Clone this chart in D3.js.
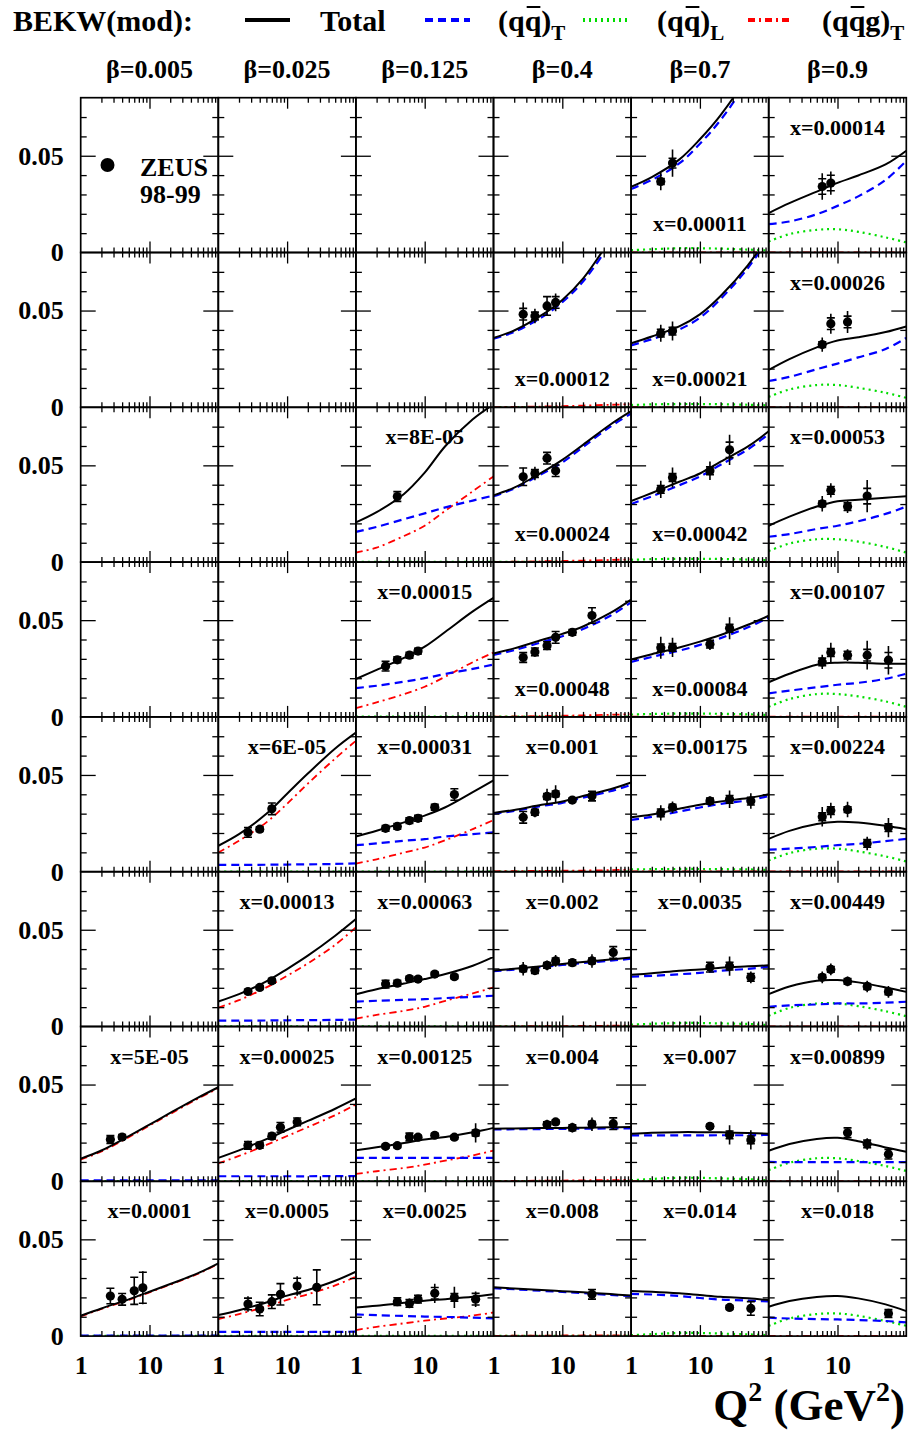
<!DOCTYPE html>
<html>
<head>
<meta charset="utf-8">
<script src="https://cdn.jsdelivr.net/npm/d3@7"></script>
<style>
  html, body { margin: 0; padding: 0; background: #fff; }
  svg { display: block; font-family: "Liberation Serif", "Times New Roman", serif; font-weight: bold; }
</style>
</head>
<body>
<svg id="chart" width="910" height="1432"></svg>
<script>
// ---------- data ----------
// Q^2 grid (GeV^2) on which the BEKW(mod) curves are tabulated
const q2Grid = [1, 2, 5, 10, 20, 50, 100];

const betaLabels = ["β=0.005", "β=0.025", "β=0.125", "β=0.4", "β=0.7", "β=0.9"];

// [row, column, x label] of each filled panel
const panels = [
  [0,4,"x=0.00011"],[0,5,"x=0.00014"],
  [1,3,"x=0.00012"],[1,4,"x=0.00021"],[1,5,"x=0.00026"],
  [2,2,"x=8E-05"],[2,3,"x=0.00024"],[2,4,"x=0.00042"],[2,5,"x=0.00053"],
  [3,2,"x=0.00015"],[3,3,"x=0.00048"],[3,4,"x=0.00084"],[3,5,"x=0.00107"],
  [4,1,"x=6E-05"],[4,2,"x=0.00031"],[4,3,"x=0.001"],[4,4,"x=0.00175"],[4,5,"x=0.00224"],
  [5,1,"x=0.00013"],[5,2,"x=0.00063"],[5,3,"x=0.002"],[5,4,"x=0.0035"],[5,5,"x=0.00449"],
  [6,0,"x=5E-05"],[6,1,"x=0.00025"],[6,2,"x=0.00125"],[6,3,"x=0.004"],[6,4,"x=0.007"],[6,5,"x=0.00899"],
  [7,0,"x=0.0001"],[7,1,"x=0.0005"],[7,2,"x=0.0025"],[7,3,"x=0.008"],[7,4,"x=0.014"],[7,5,"x=0.018"]
];

// negligible component
const tiny = [0.0001,0.0001,0.0001,0.0001,0.0001,0.0001,0.0001];

// Total
const totalCurves = [
  [0.034,0.039,0.048,0.0585,0.071,0.092,0.115],
  [0.0204,0.0255,0.0315,0.036,0.0398,0.0455,0.0526],
  [0.0359,0.0397,0.0476,0.0555,0.0665,0.087,0.105],
  [0.0331,0.0366,0.0418,0.048,0.0575,0.0735,0.089],
  [0.0193,0.0249,0.031,0.0345,0.0362,0.0389,0.0418],
  [0.0205,0.0258,0.0352,0.0462,0.060,0.0738,0.0815],
  [0.0345,0.0385,0.0462,0.0528,0.0606,0.0711,0.078],
  [0.0315,0.0357,0.0415,0.0458,0.0519,0.0598,0.0676],
  [0.0188,0.0235,0.0287,0.0315,0.0322,0.0333,0.034],
  [0.0196,0.0243,0.0305,0.0363,0.044,0.0545,0.0615],
  [0.0328,0.0354,0.0397,0.0429,0.0467,0.0537,0.0606],
  [0.0296,0.0324,0.0359,0.0389,0.0423,0.0476,0.0523],
  [0.0179,0.0223,0.027,0.028,0.028,0.0275,0.0275],
  [0.0134,0.0194,0.0299,0.0403,0.0507,0.0637,0.0719],
  [0.0182,0.0212,0.0255,0.029,0.0333,0.0411,0.0472],
  [0.0304,0.0319,0.0346,0.0363,0.0391,0.0426,0.0461],
  [0.0281,0.0296,0.0325,0.0346,0.0363,0.0381,0.04],
  [0.017,0.0211,0.0246,0.0258,0.0254,0.0237,0.0219],
  [0.0129,0.0167,0.0233,0.0297,0.0366,0.0469,0.0555],
  [0.0167,0.0193,0.0222,0.0245,0.0271,0.0314,0.036],
  [0.0289,0.0298,0.0312,0.0323,0.0333,0.0346,0.0356],
  [0.0267,0.0275,0.0288,0.0295,0.0304,0.0311,0.0316],
  [0.0167,0.0207,0.0237,0.024,0.0228,0.0202,0.0179],
  [0.0117,0.0159,0.0233,0.0293,0.0353,0.0431,0.0486],
  [0.0121,0.016,0.0218,0.0265,0.0312,0.0375,0.0428],
  [0.016,0.0176,0.0198,0.0216,0.0229,0.0253,0.0276],
  [0.0272,0.0273,0.0275,0.0276,0.0277,0.0279,0.028],
  [0.0246,0.0251,0.0254,0.0254,0.0253,0.0249,0.0246],
  [0.0158,0.0193,0.0219,0.0225,0.0207,0.0175,0.0153],
  [0.0105,0.0143,0.019,0.0229,0.0269,0.0324,0.0376],
  [0.0109,0.0134,0.0174,0.0209,0.0238,0.0286,0.0333],
  [0.0148,0.0157,0.0172,0.0183,0.0191,0.0203,0.0216],
  [0.0252,0.0246,0.0238,0.0232,0.0226,0.0217,0.021],
  [0.0233,0.0229,0.0221,0.0212,0.0203,0.0195,0.0186],
  [0.0152,0.0181,0.0202,0.0207,0.0195,0.0164,0.0129]
];

// (qqbar)_T
const qqTCurves = [
  [0.0328,0.0375,0.046,0.0562,0.0685,0.0895,0.1125],
  [0.0147,0.016,0.0198,0.0241,0.029,0.0375,0.0474],
  [0.0355,0.039,0.0465,0.0543,0.065,0.085,0.103],
  [0.032,0.0352,0.0402,0.0463,0.056,0.072,0.0875],
  [0.0136,0.0157,0.0197,0.0226,0.0258,0.0301,0.0359],
  [0.0156,0.0182,0.0222,0.0252,0.0283,0.0318,0.0344],
  [0.034,0.038,0.0455,0.0515,0.0595,0.070,0.0768],
  [0.030,0.034,0.0397,0.0442,0.0503,0.0583,0.0662],
  [0.0131,0.0145,0.0171,0.0188,0.0211,0.0249,0.0287],
  [0.0149,0.0161,0.0182,0.02,0.0222,0.0248,0.0271],
  [0.032,0.0345,0.0386,0.0417,0.0454,0.0523,0.0592],
  [0.0284,0.031,0.0342,0.0372,0.0407,0.0463,0.0513],
  [0.0122,0.0136,0.0153,0.0166,0.0176,0.0197,0.0223],
  [0.0035,0.0035,0.0036,0.0037,0.0038,0.004,0.0043],
  [0.0137,0.0146,0.016,0.0168,0.0182,0.0194,0.0203],
  [0.03,0.0314,0.034,0.0356,0.0383,0.0416,0.0448],
  [0.0268,0.0283,0.0311,0.0332,0.035,0.0369,0.0391],
  [0.0114,0.0119,0.0128,0.0137,0.0144,0.0158,0.017],
  [0.003,0.003,0.0031,0.0032,0.0033,0.0034,0.0036],
  [0.0129,0.0133,0.0138,0.0141,0.0147,0.0153,0.0159],
  [0.0286,0.0294,0.0307,0.0318,0.0328,0.034,0.035],
  [0.0257,0.0262,0.027,0.0277,0.0288,0.0298,0.0309],
  [0.0102,0.0109,0.0114,0.0119,0.0119,0.0123,0.0128],
  [0.0005,0.0005,0.0005,0.0005,0.0005,0.0005,0.0005],
  [0.0026,0.0026,0.0026,0.0026,0.0026,0.0027,0.0027],
  [0.0121,0.0121,0.0121,0.0121,0.0121,0.0121,0.0121],
  [0.0268,0.0269,0.027,0.0271,0.0272,0.0273,0.0274],
  [0.0237,0.0237,0.0237,0.0237,0.0238,0.0238,0.024],
  [0.01,0.0099,0.0099,0.0099,0.0099,0.0099,0.0099],
  [0.0003,0.0003,0.0003,0.0003,0.0003,0.0003,0.0003],
  [0.0022,0.0022,0.0022,0.0022,0.0022,0.0022,0.0023],
  [0.0112,0.0108,0.0104,0.0101,0.0099,0.0095,0.0092],
  [0.0248,0.0242,0.0234,0.0228,0.0222,0.0213,0.0206],
  [0.0218,0.0215,0.0207,0.0197,0.0189,0.0184,0.0179],
  [0.0095,0.0091,0.0088,0.0086,0.0083,0.0078,0.0071]
];

// (qqbar)_L
const qqLCurves = [
  [0.0012,0.0017,0.0022,0.0022,0.002,0.0015,0.001],
  [0.0057,0.0095,0.0117,0.012,0.0107,0.0078,0.0052],
  tiny,
  [0.0012,0.0015,0.0017,0.0017,0.0016,0.0013,0.001],
  [0.0054,0.0092,0.0115,0.0115,0.0101,0.0075,0.0049],
  tiny, tiny,
  [0.0012,0.0015,0.0017,0.0017,0.0016,0.0013,0.001],
  [0.0057,0.0096,0.0118,0.0118,0.0106,0.0078,0.0049],
  tiny, tiny,
  [0.0012,0.0015,0.0017,0.0017,0.0016,0.0013,0.001],
  [0.0052,0.0092,0.0118,0.0118,0.0106,0.008,0.0052],
  tiny, tiny, tiny,
  [0.0012,0.0013,0.0014,0.0014,0.0013,0.0012,0.0009],
  [0.0058,0.0096,0.0119,0.0119,0.0105,0.0079,0.0053],
  tiny, tiny, tiny,
  [0.001,0.0014,0.0018,0.0018,0.0016,0.0013,0.0007],
  [0.0056,0.0096,0.0119,0.0119,0.0105,0.0079,0.0053],
  tiny, tiny, tiny, tiny,
  [0.0005,0.0012,0.0018,0.0018,0.0015,0.0011,0.0005],
  [0.0058,0.0096,0.0119,0.0119,0.0105,0.0079,0.0053],
  tiny, tiny, tiny, tiny,
  [0.0005,0.001,0.0016,0.0016,0.0013,0.0009,0.0005],
  [0.0053,0.0091,0.0114,0.0117,0.0105,0.0078,0.0053]
];

// (qqbar g)_T
const qqgCurves = [
  tiny, tiny,
  [0.0001,0.0002,0.0004,0.0006,0.0009,0.0013,0.0016],
  tiny, tiny,
  [0.0049,0.0075,0.0135,0.0188,0.0266,0.0366,0.0443],
  [0.0001,0.0002,0.0004,0.0006,0.0008,0.0011,0.0014],
  tiny, tiny,
  [0.0045,0.0075,0.0118,0.0156,0.0208,0.0283,0.0332],
  [0.0001,0.0002,0.0004,0.0006,0.0008,0.0011,0.0014],
  tiny, tiny,
  [0.0099,0.016,0.0255,0.0351,0.0455,0.0585,0.0677],
  [0.0042,0.0064,0.0099,0.0125,0.0163,0.022,0.0267],
  [0.0002,0.0003,0.0004,0.0005,0.0006,0.0008,0.0011],
  tiny, tiny,
  [0.0098,0.0136,0.0202,0.0262,0.0326,0.0422,0.0512],
  [0.0041,0.006,0.0081,0.0102,0.0133,0.0171,0.0202],
  [0.0001,0.0001,0.0002,0.0002,0.0003,0.0004,0.0005],
  tiny, tiny,
  [0.0112,0.0154,0.0228,0.0288,0.0348,0.0426,0.0481],
  [0.0093,0.0131,0.0188,0.0234,0.028,0.0342,0.0397],
  [0.0038,0.0052,0.0069,0.0086,0.0107,0.0134,0.0159],
  [0.0001,0.0002,0.0003,0.0004,0.0005,0.0006,0.0007],
  tiny, tiny,
  [0.0102,0.014,0.0187,0.0226,0.0266,0.0321,0.0373],
  [0.0088,0.0114,0.0153,0.0187,0.0216,0.0262,0.0307],
  [0.0031,0.0048,0.0066,0.008,0.0091,0.0106,0.0122],
  [0.0001,0.0002,0.0002,0.0003,0.0003,0.0004,0.0004],
  tiny, tiny
];

// ZEUS 98-99 points: [Q^2, value, stat. error, total error]
const zeusPoints = [
  [[2.7,0.0367,0.0015,0.0045],[4,0.0462,0.0025,0.007]],
  [[6,0.0341,0.004,0.0069],[8,0.0359,0.004,0.006]],
  [[2.7,0.0481,0.003,0.006],[4,0.0472,0.002,0.0037],[6,0.0524,0.0048,0.0048],[8,0.0542,0.003,0.0046]],
  [[2.7,0.0383,0.002,0.0044],[4,0.0394,0.002,0.0049]],
  [[6,0.0324,0.0015,0.0037],[8,0.0432,0.003,0.0052],[14,0.0441,0.003,0.0057]],
  [[4,0.0339,0.0025,0.0025]],
  [[2.7,0.0441,0.0045,0.0046],[4,0.0458,0.002,0.0035],[6,0.0537,0.003,0.003],[8,0.0472,0.003,0.003]],
  [[2.7,0.0376,0.002,0.0045],[4,0.0437,0.002,0.0052],[14,0.0472,0.002,0.0048],[27,0.058,0.004,0.0078]],
  [[6,0.0301,0.0015,0.004],[8,0.0371,0.002,0.0037],[14,0.0287,0.002,0.0033],[27,0.0341,0.004,0.0083]],
  [[2.7,0.0262,0.0025,0.0025],[4,0.0295,0.0015,0.0015],[6,0.0319,0.0015,0.0015],[8,0.034,0.0015,0.0015]],
  [[2.7,0.0307,0.0025,0.0025],[4,0.0336,0.002,0.0025],[6,0.0368,0.002,0.002],[8,0.0411,0.003,0.003],[14,0.0437,0.0015,0.0015],[27,0.0524,0.004,0.004]],
  [[2.7,0.0357,0.002,0.0057],[4,0.0359,0.002,0.005],[14,0.0376,0.002,0.003],[27,0.0458,0.002,0.0057]],
  [[6,0.0284,0.002,0.0037],[8,0.0333,0.002,0.005],[14,0.0319,0.002,0.003],[27,0.0319,0.003,0.0074],[55,0.0293,0.004,0.0074]],
  [[2.7,0.0203,0.0025,0.0025],[4,0.022,0.0012,0.0012],[6,0.0325,0.003,0.003]],
  [[2.7,0.0224,0.0015,0.0015],[4,0.0234,0.0015,0.0015],[6,0.0264,0.0015,0.0015],[8,0.0276,0.0015,0.0015],[14,0.0333,0.0015,0.0015],[27,0.0399,0.003,0.003]],
  [[2.7,0.0281,0.003,0.003],[4,0.0307,0.0015,0.0025],[6,0.0389,0.0015,0.004],[8,0.0402,0.0015,0.0045],[14,0.037,0.001,0.001],[27,0.0391,0.0025,0.0025]],
  [[2.7,0.0304,0.002,0.004],[4,0.0333,0.0015,0.003],[14,0.0365,0.0015,0.0025],[27,0.0374,0.002,0.0045],[55,0.0365,0.002,0.004]],
  [[6,0.0284,0.002,0.005],[8,0.0316,0.002,0.004],[14,0.0321,0.0015,0.004],[27,0.0146,0.002,0.0035],[55,0.0228,0.002,0.005]],
  [[2.7,0.0181,0.001,0.001],[4,0.0202,0.001,0.001],[6,0.0236,0.0012,0.0012]],
  [[2.7,0.0219,0.002,0.002],[4,0.0224,0.0015,0.0015],[6,0.0248,0.001,0.001],[8,0.0245,0.001,0.001],[14,0.0271,0.001,0.001],[27,0.0257,0.001,0.001]],
  [[2.7,0.0298,0.0015,0.0035],[4,0.0289,0.0015,0.0015],[6,0.0316,0.0015,0.0025],[8,0.0339,0.0015,0.003],[14,0.033,0.0015,0.0015],[27,0.0339,0.0015,0.0035],[55,0.0383,0.003,0.003]],
  [[14,0.0307,0.0025,0.0025],[27,0.0312,0.002,0.005],[55,0.0254,0.002,0.003]],
  [[6,0.0254,0.0015,0.003],[8,0.0295,0.0015,0.003],[14,0.0233,0.0015,0.0025],[27,0.0207,0.0015,0.003],[55,0.0179,0.0015,0.003]],
  [[2.7,0.0216,0.002,0.002],[4,0.0229,0.0012,0.0012]],
  [[2.7,0.0186,0.002,0.002],[4,0.0186,0.0015,0.0015],[6,0.0233,0.0015,0.0015],[8,0.0279,0.0025,0.0025],[14,0.0307,0.002,0.002]],
  [[2.7,0.0181,0.001,0.001],[4,0.0184,0.001,0.001],[6,0.0229,0.002,0.002],[8,0.0228,0.001,0.001],[14,0.0238,0.001,0.001],[27,0.0228,0.001,0.001],[55,0.025,0.0015,0.005]],
  [[6,0.0293,0.0015,0.0025],[8,0.0307,0.001,0.001],[14,0.0277,0.0015,0.0025],[27,0.0295,0.0015,0.0035],[55,0.0298,0.003,0.003]],
  [[14,0.0284,0.001,0.001],[27,0.024,0.002,0.005],[55,0.0214,0.002,0.005]],
  [[14,0.0251,0.0025,0.0025],[27,0.0193,0.002,0.003],[55,0.014,0.0025,0.0025]],
  [[2.7,0.0207,0.004,0.0041],[4,0.019,0.003,0.003],[6,0.0234,0.007,0.007],[8,0.025,0.008,0.0085]],
  [[2.7,0.0166,0.003,0.004],[4,0.014,0.0035,0.0035],[6,0.0178,0.0035,0.0035],[8,0.0216,0.0055,0.0055],[14,0.0259,0.004,0.005],[27,0.0252,0.009,0.009]],
  [[4,0.0178,0.002,0.002],[6,0.0169,0.002,0.0025],[8,0.0191,0.002,0.002],[14,0.0221,0.003,0.005],[27,0.02,0.002,0.0055],[55,0.0191,0.003,0.004]],
  [[27,0.0216,0.0025,0.0025]],
  [[27,0.0148,0.001,0.001],[55,0.0143,0.0035,0.0035]],
  [[55,0.0117,0.002,0.002]]
];

// ---------- layout ----------
const svg = d3.select("#chart");
const gridLeft = 80.7, gridTop = 97.7, colW = 137.6, rowH = 154.8;
const nRows = 8, nCols = 6;
const x = d3.scaleLog().domain([1, 100]).range([0, colW]);
const y = d3.scaleLinear().domain([0, 0.08]).range([rowH, 0]);

const curveStyles = {
  T:     { stroke: "#0000ff", width: 2.2, dash: "8,5" },
  L:     { stroke: "#00dd00", width: 2.2, dash: "2,4" },
  G:     { stroke: "#ff0000", width: 1.8, dash: "7,4,2,4" },
  total: { stroke: "#000000", width: 2,   dash: null }
};

const minorX = [2,3,4,5,6,7,8,9,20,30,40,50,60,70,80,90];
const minorY = [0.01,0.02,0.03,0.04,0.06,0.07];

function cellOrigin(r, c) {
  return [gridLeft + c * colW, gridTop + r * rowH];
}

// Frame and inward ticks for every cell
function drawFrame(g) {
  const tickAxis = (axis, tx, ty) => {
    const a = g.append("g").attr("transform", `translate(${tx},${ty})`).call(axis);
    a.select(".domain").remove();
    a.selectAll("line").attr("stroke", "#000").attr("stroke-width", 1.3);
  };
  tickAxis(d3.axisBottom(x).tickValues(minorX).tickSizeInner(-5).tickSizeOuter(0).tickFormat(""), 0, rowH);
  tickAxis(d3.axisBottom(x).tickValues([10]).tickSizeInner(-11).tickSizeOuter(0).tickFormat(""), 0, rowH);
  tickAxis(d3.axisTop(x).tickValues(minorX).tickSizeInner(-5).tickSizeOuter(0).tickFormat(""), 0, 0);
  tickAxis(d3.axisTop(x).tickValues([10]).tickSizeInner(-11).tickSizeOuter(0).tickFormat(""), 0, 0);
  tickAxis(d3.axisLeft(y).tickValues(minorY).tickSizeInner(-6).tickSizeOuter(0).tickFormat(""), 0, 0);
  tickAxis(d3.axisLeft(y).tickValues([0.05]).tickSizeInner(-15).tickSizeOuter(0).tickFormat(""), 0, 0);
  tickAxis(d3.axisRight(y).tickValues(minorY).tickSizeInner(-6).tickSizeOuter(0).tickFormat(""), colW, 0);
  tickAxis(d3.axisRight(y).tickValues([0.05]).tickSizeInner(-15).tickSizeOuter(0).tickFormat(""), colW, 0);
  g.append("rect").attr("width", colW).attr("height", rowH)
    .attr("fill", "none").attr("stroke", "#000").attr("stroke-width", 1.7);
}

const defs = svg.append("defs");
defs.append("clipPath").attr("id", "cellClip")
  .append("rect").attr("x", 0).attr("y", 0).attr("width", colW).attr("height", rowH);

const line = d3.line()
  .x((d, i) => x(q2Grid[i]))
  .y(d => y(d))
  .curve(d3.curveCatmullRom.alpha(0.5));

// curves and points for the filled panels
panels.forEach(([r, c, label], i) => {
  const [ox, oy] = cellOrigin(r, c);
  const g = svg.append("g").attr("transform", `translate(${ox},${oy})`);
  const plot = g.append("g").attr("clip-path", "url(#cellClip)");

  [["L", qqLCurves[i]], ["G", qqgCurves[i]], ["T", qqTCurves[i]], ["total", totalCurves[i]]]
    .forEach(([key, vals]) => {
      const s = curveStyles[key];
      plot.append("path").attr("d", line(vals))
        .attr("fill", "none").attr("stroke", s.stroke)
        .attr("stroke-width", s.width)
        .attr("stroke-dasharray", s.dash);
    });

  const pts = plot.selectAll("g.pt").data(zeusPoints[i]).enter().append("g").attr("class", "pt");
  pts.append("line")
    .attr("x1", d => x(d[0])).attr("x2", d => x(d[0]))
    .attr("y1", d => y(d[1] + d[3])).attr("y2", d => y(d[1] - d[3]))
    .attr("stroke", "#000").attr("stroke-width", 1.6);
  [1, -1].forEach(sgn => {
    pts.append("line")
      .attr("x1", d => x(d[0]) - 4).attr("x2", d => x(d[0]) + 4)
      .attr("y1", d => y(d[1] + sgn * d[2])).attr("y2", d => y(d[1] + sgn * d[2]))
      .attr("stroke", "#000").attr("stroke-width", 1.6);
  });
  pts.append("circle").attr("cx", d => x(d[0])).attr("cy", d => y(d[1]))
    .attr("r", 4.6).attr("fill", "#000");

  const atBottom = (c === 3 || c === 4) && r <= 3;
  g.append("text").attr("x", colW / 2).attr("y", atBottom ? 133.5 : 37)
    .attr("text-anchor", "middle").attr("font-size", 22).text(label);
});

// frames for all cells
for (let r = 0; r < nRows; r++) {
  for (let c = 0; c < nCols; c++) {
    const [ox, oy] = cellOrigin(r, c);
    drawFrame(svg.append("g").attr("transform", `translate(${ox},${oy})`));
  }
}

// y labels on each row
for (let r = 0; r < nRows; r++) {
  const a = svg.append("g").attr("transform", `translate(${gridLeft},${gridTop + r * rowH})`)
    .call(d3.axisLeft(y).tickValues([0, 0.05]).tickSize(0).tickPadding(17)
      .tickFormat(v => v === 0 ? "0" : "0.05"));
  a.select(".domain").remove();
  a.selectAll("text").attr("font-size", 26).attr("font-family", "Liberation Serif")
    .attr("font-weight", "bold").attr("fill", "#000");
}

// x labels under the bottom row
for (let c = 0; c < nCols; c++) {
  const a = svg.append("g").attr("transform", `translate(${gridLeft + c * colW},${gridTop + nRows * rowH})`)
    .call(d3.axisBottom(x).tickValues([1, 10]).tickSize(0).tickPadding(19).tickFormat(d3.format("d")));
  a.select(".domain").remove();
  a.selectAll("text").attr("font-size", 26).attr("font-family", "Liberation Serif")
    .attr("font-weight", "bold").attr("fill", "#000");
}

// beta labels
svg.selectAll("text.beta").data(betaLabels).enter().append("text")
  .attr("class", "beta")
  .attr("x", (d, i) => gridLeft + (i + 0.5) * colW).attr("y", 78)
  .attr("text-anchor", "middle").attr("font-size", 26).text(d => d);

// ZEUS marker legend
svg.append("circle").attr("cx", 107.5).attr("cy", 165).attr("r", 7).attr("fill", "#000");
svg.append("text").attr("x", 140).attr("y", 176).attr("font-size", 26).text("ZEUS");
svg.append("text").attr("x", 140).attr("y", 203).attr("font-size", 26).text("98-99");

// header legend
const header = svg.append("g");
header.append("text").attr("x", 13).attr("y", 31).attr("font-size", 30).text("BEKW(mod):");

function legendSwatch(x1, x2, key) {
  const s = curveStyles[key];
  header.append("line").attr("x1", x1).attr("x2", x2).attr("y1", 20).attr("y2", 20)
    .attr("stroke", s.stroke).attr("stroke-width", 4)
    .attr("stroke-dasharray", s.dash);
}
function legendLabel(xPos, main, barIndex, sub) {
  const t = header.append("text").attr("x", xPos).attr("y", 31).attr("font-size", 30);
  t.append("tspan").text(main);
  if (sub) t.append("tspan").attr("font-size", 21).attr("dy", 9).text(sub);
  if (barIndex != null) {
    const n = t.node();
    const s = n.getStartPositionOfChar(barIndex), e = n.getEndPositionOfChar(barIndex);
    header.append("line").attr("x1", s.x + 2).attr("x2", e.x - 1)
      .attr("y1", 7).attr("y2", 7).attr("stroke", "#000").attr("stroke-width", 2);
  }
}
legendSwatch(245, 290, "total");
legendLabel(320, "Total", null, null);
legendSwatch(425, 470, "T");
legendLabel(498, "(qq)", 2, "T");
legendSwatch(583, 628, "L");
legendLabel(657, "(qq)", 2, "L");
legendSwatch(748, 793, "G");
legendLabel(822, "(qqg)", 2, "T");

// axis title
const xt = svg.append("text").attr("x", 905).attr("y", 1420).attr("text-anchor", "end").attr("font-size", 45);
xt.append("tspan").text("Q");
xt.append("tspan").attr("font-size", 28).attr("dy", -19).text("2");
xt.append("tspan").attr("dy", 19).text(" (GeV");
xt.append("tspan").attr("font-size", 28).attr("dy", -19).text("2");
xt.append("tspan").attr("dy", 19).text(")");
</script>
</body>
</html>
